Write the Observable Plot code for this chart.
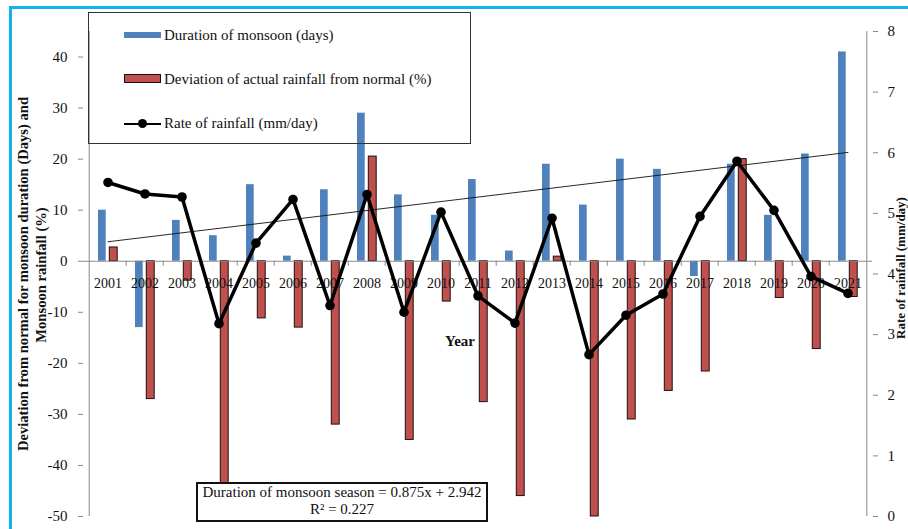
<!DOCTYPE html>
<html>
<head>
<meta charset="utf-8">
<script src="https://cdn.jsdelivr.net/npm/d3@7"></script>
<script src="https://cdn.jsdelivr.net/npm/@observablehq/plot@0.6"></script>
<style>
  html, body { margin: 0; padding: 0; background: #fff; overflow: hidden; }
  #wrap { position: relative; width: 908px; height: 529px; overflow: hidden; font-family: "Liberation Serif", "Times New Roman", serif; }
  #wrap svg { position: absolute; left: 0; top: 0; }
  .abs { position: absolute; white-space: nowrap; }
  .border { position: absolute; left: 9px; top: 5.5px; width: 1000px; height: 1000px; border-left: 3px solid #12b2ee; border-top: 3px solid #12b2ee; }
  .legend { position: absolute; left: 88px; top: 12px; width: 381px; height: 130px; border: 1px solid #333; }
  .leg-text { position: absolute; left: 164px; font-size: 15px; color: #111; transform: translateY(-50%); line-height: 1; white-space: nowrap; }
  .eqbox { position: absolute; left: 196px; top: 482px; width: 288px; height: 36px; border: 2px solid #111; background: #fff; text-align: center; font-size: 15px; line-height: 17px; color: #111; }
  .ytitle { position: absolute; font-weight: bold; font-size: 14.6px; color: #111; transform: translate(-50%, -50%) rotate(-90deg); white-space: nowrap; line-height: 1; }
</style>
</head>
<body>
<div id="wrap"></div>
<script>
const years = ["2001","2002","2003","2004","2005","2006","2007","2008","2009","2010","2011","2012","2013","2014","2015","2016","2017","2018","2019","2020","2021"];
const duration = [10, -13, 8, 5, 15, 1, 14, 29, 13, 9, 16, 2, 19, 11, 20, 18, -3, 19, 9, 21, 41];
const rainDeviation = [2.7, -27, -3.8, -44, -11.2, -13, -32, 20.5, -35, -7.9, -27.6, -46, 0.9, -50, -31, -25.4, -21.6, 20, -7.2, -17.2, -7];
const rainRate = [5.51, 5.32, 5.27, 3.18, 4.51, 5.23, 3.48, 5.31, 3.37, 5.02, 3.64, 3.19, 4.92, 2.67, 3.32, 3.67, 4.95, 5.86, 5.05, 3.96, 3.68];
const leftTicks = [-50, -40, -30, -20, -10, 0, 10, 20, 30, 40];
const rightTicks = [0, 1, 2, 3, 4, 5, 6, 7, 8];
const trendSlope = 0.875, trendIntercept = 2.942;

const yMin = -50, yMax = 45, rMax = 8;
const toLeft = r => yMin + r / rMax * (yMax - yMin);

const W = 908, H = 529, mL = 83, mR = 36, mT = 31, mB = 13;
const bw = (W - mL - mR) / years.length;
const gray = "#8a8a8a";
const serif = "Liberation Serif, Times New Roman, serif";

const blueData = years.map((y, i) => ({year: y, v: duration[i]}));
const redData = years.map((y, i) => ({year: y, v: rainDeviation[i]}));
const rateData = years.map((y, i) => ({year: y, v: toLeft(rainRate[i])}));
const trendData = [0, years.length - 1].map(i => ({year: years[i], v: trendSlope * (i + 1) + trendIntercept}));

const chart = Plot.plot({
  width: W, height: H,
  marginLeft: mL, marginRight: mR, marginTop: mT, marginBottom: mB,
  style: {fontFamily: serif, background: "transparent", color: "#111"},
  x: {type: "band", domain: years, padding: 0, axis: null},
  y: {domain: [yMin, yMax], axis: null},
  marks: [
    Plot.barY(blueData, {x: "year", y: "v", fill: "#4f81bd", insetLeft: 9, insetRight: 20.3}),
    Plot.barY(redData, {x: "year", y: "v", fill: "#c0504d", stroke: "#1a1010", strokeWidth: 1, insetLeft: 20.3, insetRight: 8.8}),
    Plot.ruleY([0], {stroke: gray, strokeWidth: 1}),
    Plot.ruleX(years.slice(1), {x: d => d, y1: 0, y2: -1, dx: -bw / 2, stroke: gray}),
    Plot.ruleX([years[0]], {x: d => d, dx: -bw / 2, stroke: gray}),
    Plot.ruleX([years[years.length - 1]], {x: d => d, dx: bw / 2, stroke: gray}),
    Plot.text(years, {x: d => d, y: 0, dy: 22, text: d => d, fontSize: 14, fontFamily: serif, fill: "#111"}),
    Plot.axisY({anchor: "left", ticks: leftTicks, tickFormat: v => String(v), tickSize: 5, tickPadding: 11, fontSize: 15, fontFamily: serif, fill: "#111", stroke: gray, label: null}),
    Plot.axisY({anchor: "right", ticks: rightTicks.map(toLeft), tickFormat: v => String(Math.round((v - yMin) / (yMax - yMin) * rMax)), tickSize: 5, tickPadding: 10, fontSize: 15, fontFamily: serif, fill: "#111", stroke: gray, label: null}),
    Plot.line(trendData, {x: "year", y: "v", stroke: "#111", strokeWidth: 0.9}),
    Plot.line(rateData, {x: "year", y: "v", stroke: "#000", strokeWidth: 3.5, strokeLinejoin: "miter"}),
    Plot.dot(rateData, {x: "year", y: "v", r: 4.8, fill: "#000", stroke: "none"})
  ]
});

const wrap = document.getElementById("wrap");
wrap.appendChild(chart);

function add(html) { wrap.insertAdjacentHTML("beforeend", html); }
add('<div class="border"></div>');
add('<div class="legend">' +
  '<div class="abs" style="left:35px;top:19px;width:37px;height:6px;background:#4f81bd"></div>' +
  '<div class="abs" style="left:35px;top:61px;width:35px;height:7px;background:#c0504d;border:1px solid #1a1010"></div>' +
  '<div class="abs" style="left:35px;top:109.5px;width:37px;height:2px;background:#000"></div>' +
  '<div class="abs" style="left:49px;top:106px;width:9px;height:9px;border-radius:50%;background:#000"></div>' +
  '</div>');
add('<div class="leg-text" style="top:35px">Duration of monsoon (days)</div>');
add('<div class="leg-text" style="top:79px">Deviation of actual rainfall from normal (%)</div>');
add('<div class="leg-text" style="top:123px">Rate of rainfall (mm/day)</div>');
add('<div class="eqbox">Duration of monsoon season = 0.875x + 2.942<br>R² = 0.227</div>');
add('<div class="abs" style="left:460px;top:341px;transform:translate(-50%,-50%);font-weight:bold;font-size:15px;color:#111;line-height:1">Year</div>');
add('<div class="ytitle" style="left:23px;top:274px">Deviation from normal for monsoon duration (Days) and</div>');
add('<div class="ytitle" style="left:41px;top:275px">Monsoon rainfall (%)</div>');
add('<div class="ytitle" style="left:900px;top:268px;font-size:13px">Rate of rainfall (mm/day)</div>');
</script>
</body>
</html>
